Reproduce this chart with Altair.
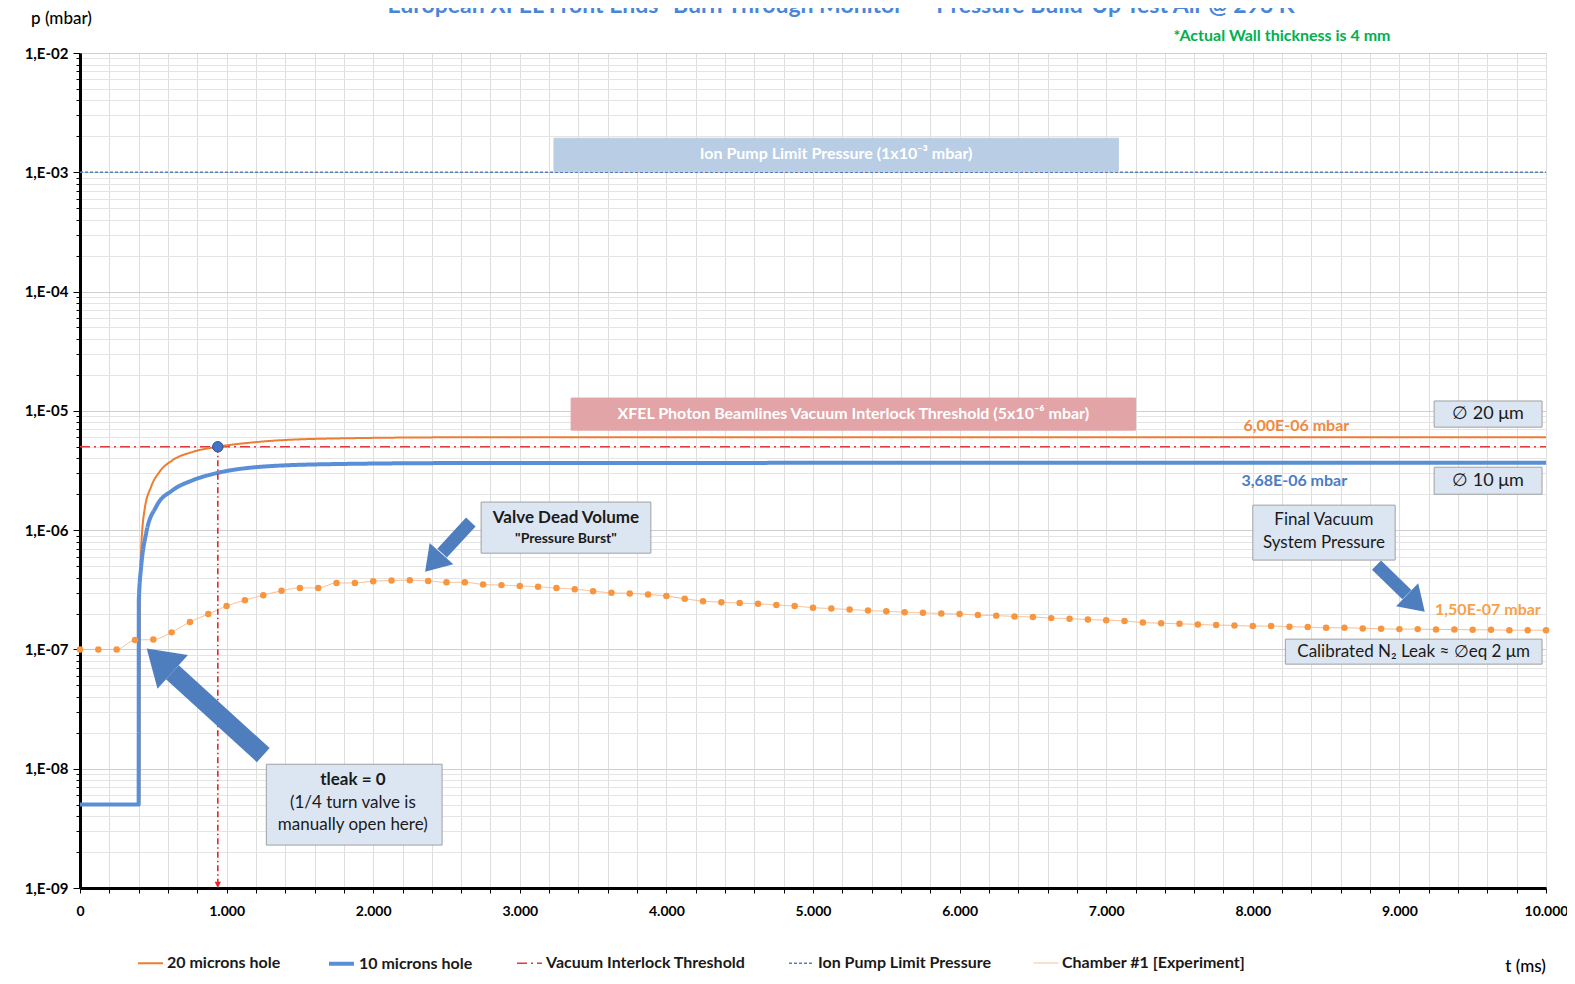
import altair as alt
import pandas as pd

TITLE = 'European XFEL Front Ends "Burn Through Monitor" – Pressure Build-Up Test Air @ 293 K'
NOTE = "*Actual Wall thickness is 4 mm"

SERIES = ["20 microns hole", "10 microns hole", "Vacuum Interlock Threshold",
          "Ion Pump Limit Pressure", "Chamber #1 [Experiment]"]
SERIES_COLORS = ["#ED7D31", "#5A8FD8", "#E0393E", "#4F81BD", "#F7B98C"]
SERIES_DASH = [[1, 0], [1, 0], [10, 4, 2, 4], [3, 2], [1, 0]]
SERIES_WIDTH = [2, 4, 1.6, 1.5, 1]

# 20 microns hole
T_20 = [0, 405, 409, 417, 440, 485, 542, 632, 769, 939, 1223, 1678, 2586, 10000]
P_20 = [5e-9, 5e-9, 2.3e-7, 6.8e-7, 1.47e-6, 2.31e-6, 3.08e-6, 3.86e-6, 4.53e-6,
        5.0e-6, 5.5e-6, 5.85e-6, 6.0e-6, 6.0e-6]
# 10 microns hole
T_10 = [0, 400, 401, 417, 451, 519, 632, 769, 939, 1223, 1678, 2586, 10000]
P_10 = [5e-9, 5e-9, 2.59e-7, 4.9e-7, 9.4e-7, 1.57e-6, 2.16e-6, 2.62e-6, 3.02e-6,
        3.39e-6, 3.57e-6, 3.65e-6, 3.68e-6]
# limits
T_LIM = [0, 10000]
P_INTERLOCK = [5e-6, 5e-6]
P_PUMP = [1e-3, 1e-3]
# Chamber #1 experiment
CH_T = [0, 125, 250, 375, 500, 625, 750, 875, 1000, 1125, 1250, 1375, 1500, 1625,
        1750, 1875, 2000, 2125, 2250, 2375, 2500, 2625, 2750, 2875, 3000, 3125,
        3250, 3375, 3500, 3625, 3750, 3875, 4000, 4125, 4250, 4375, 4500, 4625,
        4750, 4875, 5000, 5125, 5250, 5375, 5500, 5625, 5750, 5875, 6000, 6125,
        6250, 6375, 6500, 6625, 6750, 6875, 7000, 7125, 7250, 7375, 7500, 7625,
        7750, 7875, 8000, 8125, 8250, 8375, 8500, 8625, 8750, 8875, 9000, 9125,
        9250, 9375, 9500, 9625, 9750, 9875, 10000]
CH_P = [1.00e-7, 1.00e-7, 1.00e-7, 1.20e-7, 1.21e-7, 1.39e-7, 1.70e-7, 1.98e-7,
        2.31e-7, 2.59e-7, 2.85e-7, 3.10e-7, 3.28e-7, 3.28e-7, 3.61e-7, 3.61e-7,
        3.73e-7, 3.78e-7, 3.80e-7, 3.75e-7, 3.65e-7, 3.65e-7, 3.51e-7, 3.46e-7,
        3.41e-7, 3.35e-7, 3.27e-7, 3.20e-7, 3.08e-7, 2.98e-7, 2.95e-7, 2.89e-7,
        2.80e-7, 2.66e-7, 2.54e-7, 2.49e-7, 2.45e-7, 2.41e-7, 2.36e-7, 2.31e-7,
        2.24e-7, 2.20e-7, 2.16e-7, 2.12e-7, 2.09e-7, 2.05e-7, 2.03e-7, 2.00e-7,
        1.98e-7, 1.94e-7, 1.92e-7, 1.89e-7, 1.87e-7, 1.83e-7, 1.81e-7, 1.78e-7,
        1.76e-7, 1.73e-7, 1.68e-7, 1.66e-7, 1.64e-7, 1.62e-7, 1.60e-7, 1.59e-7,
        1.57e-7, 1.57e-7, 1.55e-7, 1.54e-7, 1.52e-7, 1.52e-7, 1.50e-7, 1.49e-7,
        1.48e-7, 1.48e-7, 1.47e-7, 1.47e-7, 1.46e-7, 1.46e-7, 1.45e-7, 1.45e-7,
        1.45e-7]

# threshold crossing marker
MARK_T = [940]
MARK_P = [5e-6]

# annotation boxes
BOX_T1 = [3233, 3350, 9237, 9237, 8000, 2736, 1271, 8222]
BOX_T2 = [7083, 7200, 9973, 9973, 8971, 3894, 2470, 9973]
BOX_P1 = [1.93e-3, 1.28e-5, 1.21e-5, 3.37e-6, 1.62e-6, 1.72e-6, 1.09e-8, 1.22e-7]
BOX_P2 = [1.02e-3, 6.89e-6, 7.3e-6, 2.0e-6, 5.61e-7, 6.41e-7, 2.29e-9, 7.53e-8]
BOX_FILL = ["#B9CDE5", "#E2A4A6", "#DCE6F2", "#DCE6F2", "#DCE6F2", "#DCE6F2", "#DCE6F2", "#DCE6F2"]
BOX_STROKE = ["#B9CDE5", "#E2A4A6", "#A0A0A0", "#A0A0A0", "#A0A0A0", "#A0A0A0", "#A0A0A0", "#A0A0A0"]

# bold texts
BT_TEXT = ["Ion Pump Limit Pressure (1x10⁻³ mbar)",
           "XFEL Photon Beamlines Vacuum Interlock Threshold (5x10⁻⁶ mbar)",
           "6,00E-06 mbar", "3,68E-06 mbar", "1,50E-07 mbar",
           "Valve Dead Volume", '"Pressure Burst"', "tleak  = 0"]
BT_T = [5158, 5275, 8297, 8283, 9604, 3315, 3315, 1861]
BT_P = [1.41e-3, 9.38e-6, 7.45e-6, 2.58e-6, 2.14e-7, 1.26e-6, 8.4e-7, 8.1e-9]
BT_COLOR = ["#FFFFFF", "#FFFFFF", "#EE8A3E", "#4A7DC4", "#F7A14A", "#1A1A1A", "#1A1A1A", "#1A1A1A"]
BT_SIZE = [16, 16, 16, 16, 16, 17, 14, 17]

# normal texts
NT_TEXT = ["∅ 20 μm", "∅ 10 μm", "Final Vacuum", "System Pressure",
           "Calibrated N₂ Leak ≈ ∅eq 2 μm", "(1/4 turn valve is", "manually open here)"]
NT_T = [9605, 9605, 8485, 8485, 9097, 1861, 1861]
NT_P = [9.38e-6, 2.60e-6, 1.21e-6, 7.87e-7, 9.59e-8, 5.19e-9, 3.39e-9]
NT_SIZE = [18, 18, 17, 17, 17, 17, 17]

# block arrows: tail, head base, tip, rotation
AR_TAIL_T = [1250, 2666, 8844]
AR_TAIL_P = [1.30e-8, 1.17e-6, 5.09e-7]
AR_BASE_T = [630, 2470, 9051]
AR_BASE_P = [6.45e-8, 6.41e-7, 2.88e-7]
AR_TIP_T = [455, 2354, 9173]
AR_TIP_P = [1.02e-7, 4.47e-7, 2.07e-7]
AR_ANGLE = [312, 222, 134]

X_TICKS = list(range(0, 10001, 200))
Y_TICKS = [m * 10.0 ** e for e in range(-9, -2) for m in range(1, 10)] + [1e-2]

FONT = "Lato"
IS_DEC = "abs(log(datum.value)/LN10 - round(log(datum.value)/LN10)) < 0.001"

xscale = alt.Scale(domain=[0, 10000], nice=False, zero=False)
yscale = alt.Scale(type="log", domain=[1e-9, 1e-2], nice=False)

xaxis = alt.Axis(
    values=X_TICKS,
    labelExpr="datum.value % 1000 === 0 ? replace(format(datum.value, ','), ',', '.') : ''",
    labelOverlap=False, labelFlush=False,
    labelFont=FONT, labelFontSize=14, labelFontWeight="bold", labelColor="black",
    labelPadding=11,
    grid=True, gridColor="#DEDEDE", gridWidth=1,
    domainColor="black", domainWidth=3, tickColor="black", tickSize=5, tickWidth=1,
    title="t (ms)", titleAngle=0, titleX=1445, titleY=78, titleAlign="center",
    titleBaseline="middle", titleFont=FONT, titleFontSize=17, titleFontWeight=500,
    titleColor="black",
)
yaxis = alt.Axis(
    values=Y_TICKS,
    labelExpr=f"{IS_DEC} ? '1,E-0' + (-round(log(datum.value)/LN10)) : ''",
    labelOverlap=False, labelFlush=False,
    labelFont=FONT, labelFontSize=15, labelFontWeight="bold", labelColor="black",
    labelPadding=5,
    grid=True,
    gridColor={"condition": {"test": IS_DEC, "value": "#CFCFCF"}, "value": "#E4E4E4"},
    gridWidth=1,
    domainColor="black", domainWidth=3, tickColor="black",
    tickSize={"condition": {"test": IS_DEC, "value": 7}, "value": 4},
    tickWidth=1,
    title="p (mbar)", titleAngle=0, titleX=-19, titleY=-35, titleAlign="center",
    titleBaseline="middle", titleFont=FONT, titleFontSize=17, titleFontWeight=500,
    titleColor="black",
)

X = alt.X("t:Q", scale=xscale, axis=xaxis)
Y = alt.Y("p:Q", scale=yscale, axis=yaxis)

rows = []
for name, ts, ps in [(SERIES[2], T_LIM, P_INTERLOCK), (SERIES[3], T_LIM, P_PUMP),
                     (SERIES[4], CH_T, CH_P), (SERIES[0], T_20, P_20),
                     (SERIES[1], T_10, P_10)]:
    rows += [{"series": name, "t": t, "p": p} for t, p in zip(ts, ps)]
lines_df = pd.DataFrame(rows)

legend = alt.Legend(
    title=None, orient="none", legendX=57, legendY=896, direction="horizontal",
    symbolType="stroke", symbolSize=625, labelFont=FONT, labelFontSize=16,
    labelFontWeight="bold", labelColor="#1A1A1A", columnPadding=40, labelOffset=3,
    labelLimit=0,
)

lines = alt.Chart(lines_df).mark_line(interpolate="monotone").encode(
    x=X, y=Y,
    color=alt.Color("series:N", scale=alt.Scale(domain=SERIES, range=SERIES_COLORS), legend=legend),
    strokeDash=alt.StrokeDash("series:N", scale=alt.Scale(domain=SERIES, range=SERIES_DASH), legend=legend),
    strokeWidth=alt.StrokeWidth("series:N", scale=alt.Scale(type="ordinal", domain=SERIES, range=SERIES_WIDTH), legend=legend),
    detail="series:N",
)

ch_df = pd.DataFrame({"t": CH_T, "p": CH_P})
dots = alt.Chart(ch_df).mark_point(filled=True, size=42, color="#F7963F", opacity=1).encode(x=X, y=Y)

vline_df = pd.DataFrame({"t": MARK_T, "p": MARK_P, "p2": [1e-9]})
vline = alt.Chart(vline_df).mark_rule(color="#E3262B", strokeDash=[6, 3, 1.5, 3], strokeWidth=1.6).encode(
    x=X, y=Y, y2="p2:Q")
vhead = alt.Chart(pd.DataFrame({"t": MARK_T, "p": [1e-9]})).mark_point(
    shape="M0,0L-1,-2L1,-2Z", filled=True, size=40, color="#E3262B", opacity=1).encode(x=X, y=Y)

marker = alt.Chart(pd.DataFrame({"t": MARK_T, "p": MARK_P})).mark_point(
    shape="circle", filled=True, size=110, color="#4472C4", stroke="#2F4F8F",
    strokeWidth=1, opacity=1).encode(x=X, y=Y)

box_df = pd.DataFrame({"t": BOX_T1, "t2": BOX_T2, "p": BOX_P1, "p2": BOX_P2,
                       "fill": BOX_FILL, "stroke": BOX_STROKE})
boxes = alt.Chart(box_df).mark_rect(strokeWidth=1).encode(
    x=X, x2="t2:Q", y=Y, y2="p2:Q",
    fill=alt.Fill("fill:N", scale=None), stroke=alt.Stroke("stroke:N", scale=None))

ar_df = pd.DataFrame({"t": AR_TAIL_T, "p": AR_TAIL_P, "t2": AR_BASE_T, "p2": AR_BASE_P})
ar_body_big = alt.Chart(ar_df.iloc[[0]]).mark_rule(color="#4F7EBF", strokeWidth=19, strokeCap="butt").encode(
    x=X, y=Y, x2="t2:Q", y2="p2:Q")
ar_body_small = alt.Chart(ar_df.iloc[[1, 2]]).mark_rule(color="#4F7EBF", strokeWidth=13, strokeCap="butt").encode(
    x=X, y=Y, x2="t2:Q", y2="p2:Q")
head_df = pd.DataFrame({"t": AR_TIP_T, "p": AR_TIP_P, "ang": AR_ANGLE})
HEAD = "M0,0L1.3,2L-1.3,2Z"
ar_head_big = alt.Chart(head_df.iloc[[0]]).mark_point(
    shape=HEAD, filled=True, size=1225, color="#4F7EBF", opacity=1).encode(
    x=X, y=Y, angle=alt.Angle("ang:Q", scale=None))
ar_head_small = alt.Chart(head_df.iloc[[1, 2]]).mark_point(
    shape=HEAD, filled=True, size=600, color="#4F7EBF", opacity=1).encode(
    x=X, y=Y, angle=alt.Angle("ang:Q", scale=None))

bt_df = pd.DataFrame({"t": BT_T, "p": BT_P, "txt": BT_TEXT, "col": BT_COLOR, "sz": BT_SIZE})
btext = alt.Chart(bt_df).mark_text(font=FONT, fontWeight="bold", align="center", baseline="middle").encode(
    x=X, y=Y, text="txt:N", color=alt.Color("col:N", scale=None), size=alt.Size("sz:Q", scale=None))

nt_df = pd.DataFrame({"t": NT_T, "p": NT_P, "txt": NT_TEXT, "sz": NT_SIZE})
ntext = alt.Chart(nt_df).mark_text(font=FONT, align="center", baseline="middle", color="#1A1A1A").encode(
    x=X, y=Y, text="txt:N", size=alt.Size("sz:Q", scale=None))

title_t = alt.Chart(pd.DataFrame({"txt": [TITLE]})).mark_text(
    font=FONT, fontSize=23, fontWeight="bold", color="#4A86D8", align="center",
    baseline="alphabetic").encode(text="txt:N", x=alt.value(761), y=alt.value(-40))
note_t = alt.Chart(pd.DataFrame({"txt": [NOTE]})).mark_text(
    font=FONT, fontSize=16, fontWeight="bold", color="#00B050", align="center",
    baseline="middle").encode(text="txt:N", x=alt.value(1202), y=alt.value(-17))

chart = alt.layer(
    lines, dots, vline, vhead, marker, boxes,
    ar_body_big, ar_body_small, ar_head_big, ar_head_small,
    btext, ntext, title_t, note_t,
).properties(
    width=1466, height=835,
    autosize=alt.AutoSizeParams(type="none"),
    padding={"left": 72, "top": 45, "right": 21, "bottom": 88},
    background="white",
).configure_view(stroke=None)

chart.save("out.html", embed_options={"renderer": "svg", "actions": False})
